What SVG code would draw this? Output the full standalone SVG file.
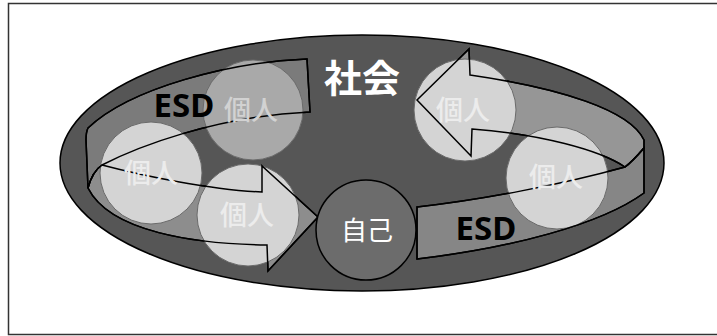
<svg xmlns="http://www.w3.org/2000/svg" xmlns:xlink="http://www.w3.org/1999/xlink" width="717" height="336" viewBox="0 0 717 336">
<style>
.frame{fill:#ffffff;stroke:#333333;stroke-width:1.5}
.society{fill:#565656;stroke:#000000;stroke-width:1.5}
.band{stroke:#000000;stroke-width:1.5;stroke-linejoin:miter}
.outline{fill:none;stroke:#000000;stroke-width:1.5;stroke-linejoin:miter}
.indiv{fill:#d4d4d4;stroke:#6a6a6a;stroke-width:1}
.indiv-dark{fill:#a9a9a9;stroke:#6a6a6a;stroke-width:1}
.self{fill:#6c6c6c;stroke:#000000;stroke-width:1.5}
.cjk{font-family:"Noto Sans CJK JP","Noto Sans CJK SC",sans-serif;text-anchor:middle}
.lbl{font-size:27px;fill:#ececec;font-weight:500}
.esd{font-family:"Open Sans","Liberation Sans",sans-serif;font-weight:700;font-size:33px;fill:#000000;text-anchor:middle}
</style>
<defs>
<path id="bandLU" d="M307,59 C230,62 130,88 88,128 C86,132 86,136 86,140 L88,188 C91,177 96,169 102,165 C135,148 215,116 310,112 Z"/>
<path id="bandLL" d="M88,188 C91,177 96,169 102,165 C140,175 210,190 262,192 L262,166 L318,217 L268,271 L267,245 C195,244 110,232 88,188 Z"/>
<path id="bandRU" d="M470,75 C560,88 630,110 644,140 L644,148 C638,155 632,162 625,167 C600,150 540,134 472,129 L471,156 L417,100 L469,49 Z"/>
<path id="bandRL" d="M417,207 C480,200 560,185 625,167 C632,162 638,155 644,148 L644,193 C600,225 510,248 417,259 Z"/>
</defs>
<rect class="frame" x="8.5" y="3.5" width="712" height="331"/>
<g id="society">
<ellipse class="society" cx="362" cy="163" rx="302" ry="128"/>
<text class="cjk" x="362" y="92" font-size="38" font-weight="700" fill="#ffffff">社会</text>
</g>
<g id="connectors">
<use xlink:href="#bandLU" class="band" fill="#7b7b7b"/>
<use xlink:href="#bandLL" class="band" fill="#8d8d8d"/>
<use xlink:href="#bandRU" class="band" fill="#969696"/>
<use xlink:href="#bandRL" class="band" fill="#868686"/>
</g>
<g id="individual-top-left">
<circle class="indiv-dark" cx="253" cy="110" r="50"/>
</g>
<g id="individual-left">
<circle class="indiv" cx="151" cy="173" r="51"/>
</g>
<g id="individual-bottom">
<circle class="indiv" cx="248" cy="215" r="51"/>
</g>
<g id="individual-right-top">
<circle class="indiv" cx="465" cy="110" r="51"/>
</g>
<g id="individual-right-lower">
<circle class="indiv" cx="557" cy="178" r="51"/>
</g>
<g id="connector-outlines">
<use xlink:href="#bandLU" class="outline"/>
<use xlink:href="#bandLL" class="outline"/>
<use xlink:href="#bandRU" class="outline"/>
<use xlink:href="#bandRL" class="outline"/>
<text class="esd" x="184" y="117">ESD</text>
<text class="esd" x="486" y="240">ESD</text>
</g>
<g id="labels">
<text class="cjk lbl" x="251" y="120" style="fill:#d2d2d2">個人</text>
<text class="cjk lbl" x="151" y="183">個人</text>
<text class="cjk lbl" x="247" y="225">個人</text>
<text class="cjk lbl" x="463" y="120">個人</text>
<text class="cjk lbl" x="556" y="187">個人</text>
</g>
<g id="self">
<circle class="self" cx="366" cy="230" r="50"/>
<text class="cjk" x="367" y="240" font-size="26" fill="#ffffff">自己</text>
</g>
</svg>
